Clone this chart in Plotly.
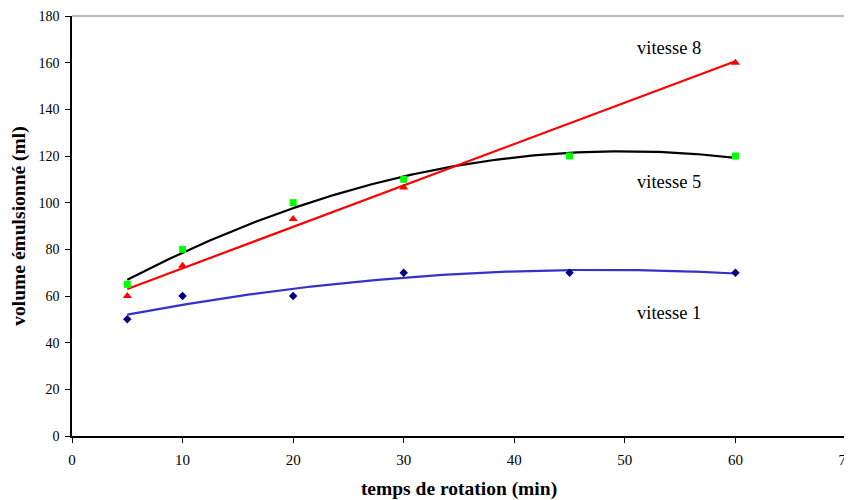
import numpy as np
import plotly.graph_objects as go

# Data
x_v1 = [5, 10, 20, 30, 45, 60]
y_v1 = [50, 60, 60, 70, 70, 70]
x_v5 = [5, 10, 20, 30, 45, 60]
y_v5 = [65, 80, 100, 110, 120, 120]
x_v8 = [5, 10, 20, 30, 60]
y_v8 = [60, 73, 93, 106.5, 160]

x_ticks = [0, 10, 20, 30, 40, 50, 60, 70]
y_ticks = [0, 20, 40, 60, 80, 100, 120, 140, 160, 180]

labels = ["vitesse 8", "vitesse 5", "vitesse 1"]
label_x = [54, 54, 54]
label_y = [166.5, 109, 52.7]

FONT = "Liberation Serif"

def trend(xs, ys, deg):
    c = np.polyfit(xs, ys, deg)
    xx = np.linspace(min(xs), max(xs), 200)
    return xx, np.polyval(c, xx)

fig = go.Figure()

for xs, ys, deg, col in [(x_v1, y_v1, 2, "#3333CC"), (x_v5, y_v5, 2, "#000000"), (x_v8, y_v8, 1, "#FF0000")]:
    tx, ty = trend(xs, ys, deg)
    fig.add_trace(go.Scatter(x=tx, y=ty, mode="lines", line=dict(color=col, width=2.2),
                             showlegend=False, hoverinfo="skip"))

fig.add_trace(go.Scatter(x=x_v1, y=y_v1, mode="markers",
                         marker=dict(symbol="diamond", size=6.5, color="#000080"), showlegend=False))
fig.add_trace(go.Scatter(x=x_v5, y=y_v5, mode="markers",
                         marker=dict(symbol="square", size=7, color="#00FF00"), showlegend=False))
fig.add_trace(go.Scatter(x=x_v8, y=y_v8, mode="markers",
                         marker=dict(symbol="triangle-up", size=8, color="#FF0000"), showlegend=False))

for t, lx, ly in zip(labels, label_x, label_y):
    fig.add_annotation(x=lx, y=ly, text=t, showarrow=False,
                       font=dict(family=FONT, size=18.5, color="black"))

# gray top and right frame
fig.add_shape(type="line", xref="paper", yref="paper", x0=0, x1=1, y0=1, y1=1,
              line=dict(color="#A0A0A0", width=1.5))
fig.add_shape(type="line", xref="paper", yref="paper", x0=1, x1=1, y0=0, y1=1,
              line=dict(color="#A0A0A0", width=1.5))

# page body has an 8px margin, so the figure is sized to fit within the window
fig.update_layout(
    width=844, height=492,
    margin=dict(l=64, r=6, t=8, b=64, autoexpand=False),
    paper_bgcolor="white", plot_bgcolor="white",
    font=dict(family=FONT, size=14, color="black"),
    xaxis=dict(range=[0, 70], tickvals=x_ticks, showgrid=False, zeroline=False,
               showline=True, linecolor="black", linewidth=1.5,
               ticks="outside", ticklen=5, tickcolor="black", tickwidth=1,
               tickfont=dict(family=FONT, size=15),
               ticklabelstandoff=4, automargin=False, ticklabeloverflow="allow",
               title=dict(text="<b>temps de rotation (min)</b>", font=dict(family=FONT, size=19.5), standoff=16)),
    yaxis=dict(range=[0, 180], tickvals=y_ticks, showgrid=False, zeroline=False,
               showline=True, linecolor="black", linewidth=1.5,
               ticks="outside", ticklen=5, tickcolor="black", tickwidth=1,
               ticklabelstandoff=3, automargin=False,
               title=dict(text="<b>volume émulsionné (ml)</b>", font=dict(family=FONT, size=19.5), standoff=12)),
)

fig.write_html("out.html")
